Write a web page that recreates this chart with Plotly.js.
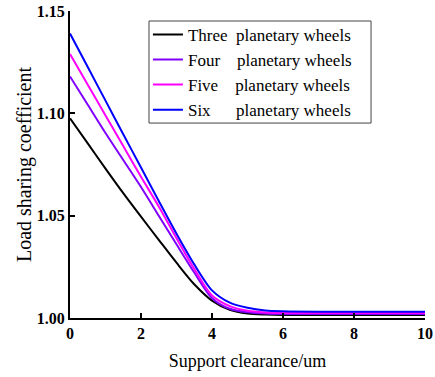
<!DOCTYPE html>
<html>
<head>
<meta charset="utf-8">
<script src="https://cdn.plot.ly/plotly-3.0.1.min.js"></script>
<style>html,body{margin:0;padding:0;background:#fff;}#chart{width:435px;height:377px;}</style>
</head>
<body>
<div id="chart"></div>
<script>
const clearance = [0, 0.5, 1, 1.5, 2, 2.5, 3, 3.5, 4, 4.5, 5, 5.5, 6, 7, 8, 9, 10];
const threeWheels = [1.0976, 1.0853, 1.0730, 1.0610, 1.0495, 1.0382, 1.0270, 1.0165, 1.0085, 1.0040, 1.0022, 1.0017, 1.0015, 1.0015, 1.0015, 1.0015, 1.0015];
const fourWheels  = [1.1180, 1.1042, 1.0904, 1.0772, 1.0640, 1.0500, 1.0360, 1.0222, 1.0097, 1.0045, 1.0028, 1.0022, 1.0020, 1.0020, 1.0020, 1.0020, 1.0020];
const fiveWheels  = [1.1290, 1.1140, 1.0990, 1.0840, 1.0690, 1.0545, 1.0390, 1.0240, 1.0110, 1.0058, 1.0035, 1.0027, 1.0025, 1.0025, 1.0025, 1.0025, 1.0025];
const sixWheels   = [1.1390, 1.1226, 1.1062, 1.0898, 1.0735, 1.0572, 1.0412, 1.0262, 1.0135, 1.0075, 1.0050, 1.0037, 1.0033, 1.0031, 1.0031, 1.0031, 1.0031];
const seriesNames = ["Three\u00a0\u00a0planetary wheels", "Four\u00a0\u00a0\u00a0\u00a0planetary wheels", "Five\u00a0\u00a0\u00a0\u00a0planetary wheels", "Six\u00a0\u00a0\u00a0\u00a0\u00a0\u00a0planetary wheels"];
const seriesColors = ["#000000", "#8000ff", "#ff00ff", "#0000ff"];
const xTickVals = [0, 2, 4, 6, 8, 10];
const yTickVals = [1.00, 1.05, 1.10, 1.15];
const yTickText = ["1.00", "1.05", "1.10", "1.15"];

const ys = [threeWheels, fourWheels, fiveWheels, sixWheels];
const traces = ys.map((y, i) => ({
  x: clearance, y: y, type: 'scatter', mode: 'lines', name: seriesNames[i],
  line: {color: seriesColors[i], width: 2, shape: 'spline', smoothing: 0.8}
}));

const serif = 'Times New Roman, Liberation Serif, serif';
const layout = {
  width: 435, height: 377,
  margin: {l: 70, r: 10, t: 11, b: 59},
  paper_bgcolor: '#fff', plot_bgcolor: '#fff',
  font: {family: serif, color: '#000'},
  showlegend: true,
  legend: {
    x: 0.2195, y: 0.981, xanchor: 'left', yanchor: 'top',
    borderwidth: 0, bgcolor: 'rgba(255,255,255,0)',
    font: {family: serif, size: 17, color: '#000'}
  },
  shapes: [{
    type: 'rect', xref: 'paper', yref: 'paper',
    x0: 0.2225, x1: 0.848, y0: 0.635, y1: 0.9674,
    line: {color: '#444', width: 1}, fillcolor: 'rgba(0,0,0,0)', layer: 'above'
  }],
  xaxis: {
    range: [0, 10], tickvals: xTickVals, ticks: 'inside', ticklen: 5, tickwidth: 2,
    tickcolor: '#000', showline: true, linecolor: '#000', linewidth: 2, showgrid: false, zeroline: false,
    tickfont: {family: serif, size: 16, color: '#000', weight: 'bold'},
    title: {text: 'Support clearance/um', font: {family: serif, size: 18, color: '#000'}, standoff: 13}
  },
  yaxis: {
    range: [1.0, 1.15], tickvals: yTickVals, ticktext: yTickText, ticks: 'inside', ticklen: 5, tickwidth: 2,
    tickcolor: '#000', showline: true, linecolor: '#000', linewidth: 2, showgrid: false, zeroline: false,
    tickfont: {family: serif, size: 16, color: '#000', weight: 'bold'},
    title: {text: 'Load sharing coefficient', font: {family: serif, size: 20, color: '#000'}, standoff: 0}
  }
};
Plotly.newPlot('chart', traces, layout, {displayModeBar: false, staticPlot: true});
</script>
</body>
</html>
